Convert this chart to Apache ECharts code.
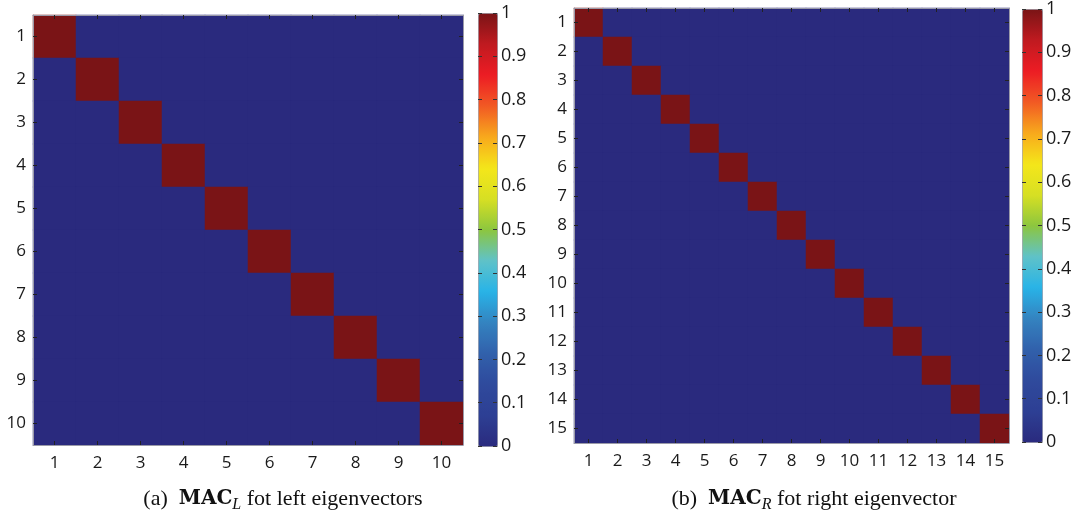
<!DOCTYPE html>
<html>
<head>
<meta charset="utf-8">
<script src="https://cdn.jsdelivr.net/npm/echarts@6/dist/echarts.min.js"></script>
<style>html,body{margin:0;padding:0;background:#fff;}#c{width:1075px;height:514px;}</style>
</head>
<body>
<div id="c"></div>
<script>
// ---- data ----
const labelsL = ['1','2','3','4','5','6','7','8','9','10'];
const labelsR = ['1','2','3','4','5','6','7','8','9','10','11','12','13','14','15'];
const macL = [
  [1,0,0,0,0,0,0,0,0,0],
  [0,1,0,0,0,0,0,0,0,0],
  [0,0,1,0,0,0,0,0,0,0],
  [0,0,0,1,0,0,0,0,0,0],
  [0,0,0,0,1,0,0,0,0,0],
  [0,0,0,0,0,1,0,0,0,0],
  [0,0,0,0,0,0,1,0,0,0],
  [0,0,0,0,0,0,0,1,0,0],
  [0,0,0,0,0,0,0,0,1,0],
  [0,0,0,0,0,0,0,0,0,1]
];
const macR = [
  [1,0,0,0,0,0,0,0,0,0,0,0,0,0,0],
  [0,1,0,0,0,0,0,0,0,0,0,0,0,0,0],
  [0,0,1,0,0,0,0,0,0,0,0,0,0,0,0],
  [0,0,0,1,0,0,0,0,0,0,0,0,0,0,0],
  [0,0,0,0,1,0,0,0,0,0,0,0,0,0,0],
  [0,0,0,0,0,1,0,0,0,0,0,0,0,0,0],
  [0,0,0,0,0,0,1,0,0,0,0,0,0,0,0],
  [0,0,0,0,0,0,0,1,0,0,0,0,0,0,0],
  [0,0,0,0,0,0,0,0,1,0,0,0,0,0,0],
  [0,0,0,0,0,0,0,0,0,1,0,0,0,0,0],
  [0,0,0,0,0,0,0,0,0,0,1,0,0,0,0],
  [0,0,0,0,0,0,0,0,0,0,0,1,0,0,0],
  [0,0,0,0,0,0,0,0,0,0,0,0,1,0,0],
  [0,0,0,0,0,0,0,0,0,0,0,0,0,1,0],
  [0,0,0,0,0,0,0,0,0,0,0,0,0,0,1]
];
const captionA = ['(a)', 'MAC', 'L', 'fot left eigenvectors'];
const captionB = ['(b)', 'MAC', 'R', 'fot right eigenvector'];
const jet = ['#2a2a7e','#2d3f94','#2f4a9c','#3160ab','#3483c0','#28b3e7','#5fc2c9','#8cc63f','#d7df23','#f4e61a','#f8a91c','#f15a24','#ed1c24','#c01a20','#7a1416'];

function toCells(m){
  const out = [];
  m.forEach((row,i)=>row.forEach((v,j)=>out.push([j,i,v])));
  return out;
}

const FONT = '"Open Sans", sans-serif';
const LBL = {fontFamily: FONT, fontSize: 17, color: '#1a1a1a'};
const BORDER = '#9a9aa8';

function hmAxes(grid, labels){
  const tick = {show:true, inside:true, length:4, alignWithLabel:true, lineStyle:{color:'#222', width:1}};
  const line = {show:true, lineStyle:{color:BORDER, width:1}};
  return {
    x: [
      {type:'category', gridIndex:grid, data:labels, position:'bottom', z:5,
        axisLine:line, axisTick:tick, axisLabel:Object.assign({margin:10}, LBL), splitLine:{show:false}},
      {type:'category', gridIndex:grid, data:labels, position:'top', z:5,
        axisLine:line, axisTick:tick, axisLabel:{show:false}, splitLine:{show:false}}
    ],
    y: [
      {type:'category', gridIndex:grid, data:labels, inverse:true, position:'left', z:5,
        axisLine:line, axisTick:tick, axisLabel:Object.assign({margin:7}, LBL), splitLine:{show:false}},
      {type:'category', gridIndex:grid, data:labels, inverse:true, position:'right', z:5,
        axisLine:line, axisTick:tick, axisLabel:{show:false}, splitLine:{show:false}}
    ]
  };
}

function cbAxes(grid){
  const tick = {show:true, inside:true, length:4, lineStyle:{color:'#333', width:1}};
  return {
    x: [{type:'category', gridIndex:grid, data:['c'], show:false}],
    y: [
      {type:'value', gridIndex:grid, min:0, max:1, interval:0.1, position:'right', z:10,
        axisLine:{show:false}, axisTick:tick, splitLine:{show:false},
        axisLabel:Object.assign({margin:4}, LBL, {fontSize:18})},
      {type:'value', gridIndex:grid, min:0, max:1, interval:0.1, position:'left', z:10,
        axisLine:{show:false}, axisTick:tick, splitLine:{show:false}, axisLabel:{show:false}}
    ]
  };
}

const a0 = hmAxes(0, labelsL), a1 = hmAxes(1, labelsR), c0 = cbAxes(2), c1 = cbAxes(3);

function capText(c){ return '{n|' + c[0] + '  }{b|' + c[1] + '}{s|' + c[2] + '}{n| ' + c[3] + '}'; }
const capRich = {
  n: {fontFamily:'"Liberation Serif", serif', fontWeight:'normal', fontSize:22, color:'#111', lineHeight:28, verticalAlign:'middle'},
  b: {fontFamily:'"DejaVu Serif", serif', fontWeight:'bold', fontSize:20, color:'#111', lineHeight:28, verticalAlign:'middle'},
  s: {fontFamily:'"Liberation Serif", serif', fontWeight:'normal', fontStyle:'italic', fontSize:16, color:'#111', lineHeight:28, verticalAlign:'bottom'}
};

const option = {
  animation: false,
  backgroundColor: '#fff',
  title: [
    {text: capText(captionA), left: 278, textAlign: 'center', top: 480, textStyle: {fontWeight:'normal', rich: capRich}},
    {text: capText(captionB), left: 809, textAlign: 'center', top: 480, textStyle: {fontWeight:'normal', rich: capRich}}
  ],
  grid: [
    {left:33, top:15, width:430, height:430},
    {left:574, top:8, width:435, height:435},
    {left:478, top:13, width:19, height:433},
    {left:1022, top:9, width:20, height:433}
  ],
  xAxis: [].concat(a0.x, a1.x, c0.x, c1.x),
  yAxis: [].concat(a0.y, a1.y, c0.y, c1.y),
  visualMap: [
    {type:'continuous', min:0, max:1, seriesIndex:0, calculable:false, hoverLink:false,
      orient:'vertical', left:478, top:13, itemWidth:19, itemHeight:433, padding:0,
      text:null, showLabel:false, borderColor:BORDER, borderWidth:1,
      inRange:{color:jet}, textStyle:{color:'transparent'}},
    {type:'continuous', min:0, max:1, seriesIndex:1, calculable:false, hoverLink:false,
      orient:'vertical', left:1022, top:9, itemWidth:20, itemHeight:433, padding:0,
      text:null, showLabel:false, borderColor:BORDER, borderWidth:1,
      inRange:{color:jet}, textStyle:{color:'transparent'}}
  ],
  series: [
    {type:'heatmap', xAxisIndex:0, yAxisIndex:0, data:toCells(macL), emphasis:{disabled:true}, itemStyle:{borderWidth:0}},
    {type:'heatmap', xAxisIndex:2, yAxisIndex:2, data:toCells(macR), emphasis:{disabled:true}, itemStyle:{borderWidth:0}}
  ]
};

const chart = echarts.init(document.getElementById('c'), null, {renderer:'canvas'});
chart.setOption(option);
</script>
</body>
</html>
